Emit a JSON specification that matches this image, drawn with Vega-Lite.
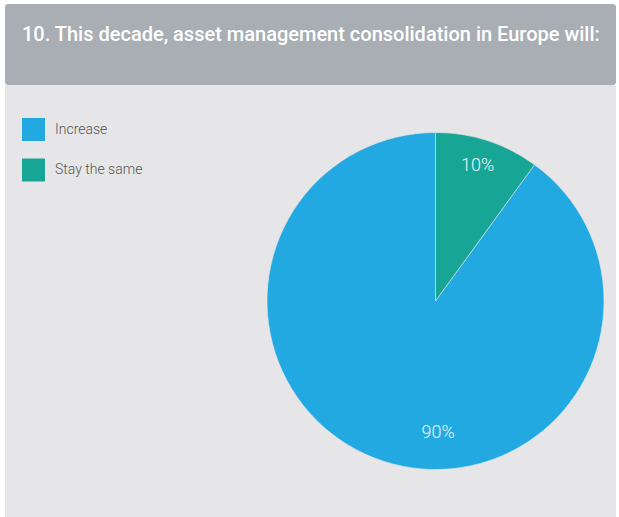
{
  "$schema": "https://vega.github.io/schema/vega-lite/v6.json",
  "background": "white",
  "padding": {"left": 5, "top": 4, "right": 3, "bottom": 0},
  "config": {
    "view": {"stroke": null, "fill": "#e6e6e8"},
    "concat": {"spacing": 0}
  },
  "datasets": {
    "responses": [
      {"response": "Increase", "share": 0.9},
      {"response": "Stay the same", "share": 0.1}
    ],
    "panels": [{"panel": "header"}]
  },
  "spacing": 0,
  "vconcat": [
    {
      "width": 611,
      "height": 81,
      "view": {"fill": null},
      "data": {"name": "panels"},
      "mark": {"type": "rect", "color": "#a9adb4", "cornerRadius": 3},
      "title": {
        "text": "10. This decade, asset management consolidation in Europe will:",
        "orient": "top",
        "anchor": "start",
        "frame": "group",
        "offset": -36.7,
        "baseline": "alphabetic",
        "dx": 17,
        "dy": 20.5,
        "color": "white",
        "font": "Roboto",
        "fontSize": 20,
        "fontWeight": 500
      }
    },
    {
      "spacing": 0,
      "hconcat": [
        {
          "width": 250,
          "height": 432,
          "data": {"name": "panels"},
          "mark": {"type": "rect", "color": "#e6e6e8"}
        },
        {
          "width": 361,
          "height": 432,
          "view": {"fill": "#e6e6e8", "stroke": null},
          "data": {"name": "responses"},
          "layer": [
            {
              "mark": {"type": "arc", "outerRadius": 168.5, "stroke": "#e6e6e8", "strokeWidth": 0.6},
              "encoding": {
                "theta": {"field": "share", "type": "quantitative", "stack": true},
                "order": {"field": "response", "sort": "descending"},
                "color": {
                  "field": "response",
                  "type": "nominal",
                  "scale": {"domain": ["Increase", "Stay the same"], "range": ["#23a9e1", "#17a696"]},
                  "legend": {
                    "title": null,
                    "orient": "none",
                    "legendX": 17,
                    "legendY": 114,
                    "symbolType": "square",
                    "symbolSize": 529,
                    "symbolStrokeWidth": 0,
                    "symbolOpacity": 1,
                    "labelFont": "Roboto",
                    "labelFontSize": 14,
                    "labelFontWeight": 300,
                    "labelColor": "#555555",
                    "labelOffset": 10,
                    "rowPadding": 17.5
                  }
                }
              }
            },
            {
              "mark": {"type": "text", "radius": 137, "font": "Roboto", "fontWeight": 300, "fontSize": 18, "color": "#eaf6fb", "baseline": "middle", "align": "center", "dy": -4.5},
              "encoding": {
                "theta": {"field": "share", "type": "quantitative", "stack": true, "scale": {"range": [0.032, 5.65]}},
                "order": {"field": "response", "sort": "descending"},
                "text": {"field": "share", "type": "quantitative", "format": ".0%"}
              }
            }
          ],
          "resolve": {"scale": {"theta": "independent"}}
        }
      ]
    }
  ]
}
